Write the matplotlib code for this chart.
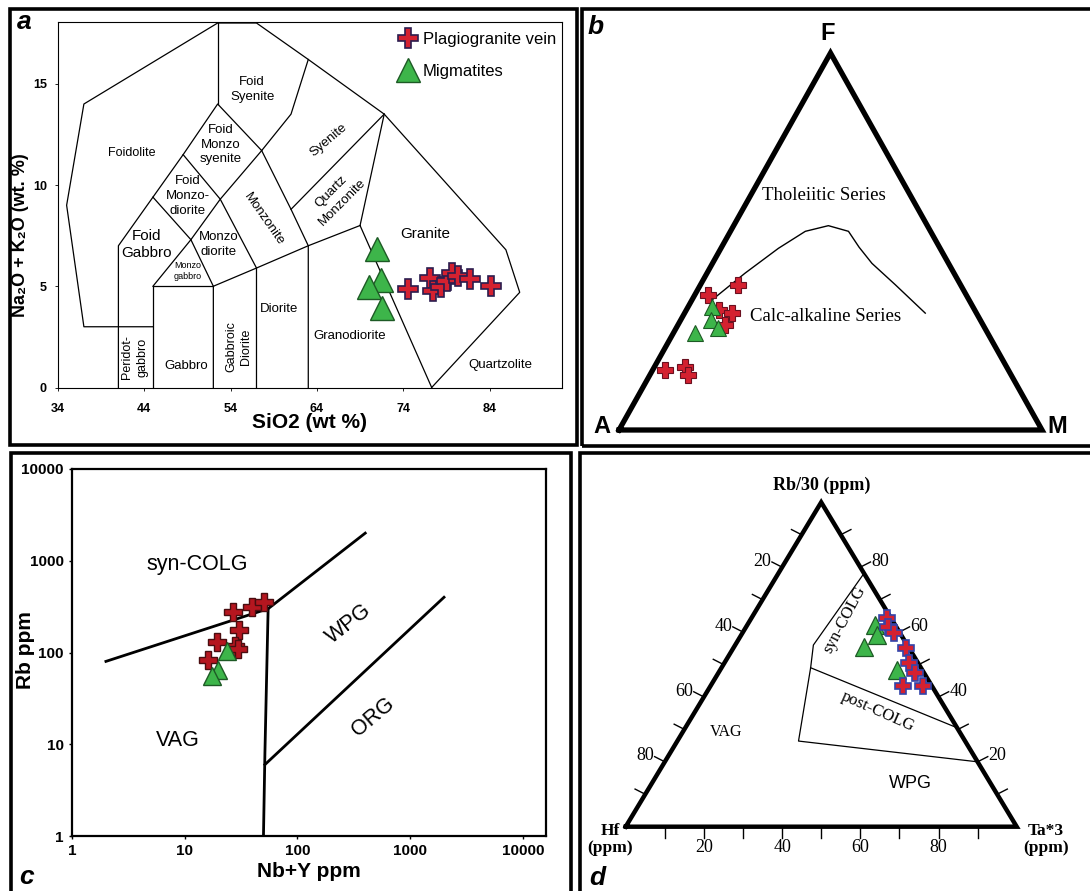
import numpy as np
import matplotlib.pyplot as plt
from matplotlib.patches import Rectangle

plt.rcParams['font.family'] = ['Liberation Sans', 'DejaVu Sans']
SERIF = ['Liberation Serif', 'DejaVu Serif']

# ---------------- data ----------------
# panel a: TAS (SiO2, Na2O+K2O)
a_plag_sio2 = [74.5, 77.1, 77.5, 78.4, 79.1, 79.7, 80.3, 81.7, 84.2]
a_plag_alk = [4.87, 5.41, 4.79, 4.97, 5.25, 5.63, 5.50, 5.36, 5.00]
a_mig_sio2 = [71.0, 71.4, 70.0, 71.6]
a_mig_alk = [6.85, 5.33, 4.97, 3.93]

tas_lines = [
    [(45, 3), (37, 3), (35, 9), (37, 14), (52.5, 18), (57, 18), (63, 16.2),
     (71.8, 13.5), (85.9, 6.8), (87.5, 4.7), (77.3, 0)],
    [(41, 0), (41, 7), (45, 9.4), (48.5, 11.5), (52.5, 14), (57.6, 11.7),
     (61, 13.5), (63, 16.2)],
    [(52.5, 14), (52.5, 18)],
    [(45, 0), (45, 5), (52, 5)],
    [(45, 5), (49.4, 7.3)],
    [(45, 9.4), (49.4, 7.3), (52, 5), (52, 0)],
    [(49.4, 7.3), (52.8, 9.3), (57.6, 11.7)],
    [(48.5, 11.5), (52.8, 9.3), (57, 5.9), (57, 0)],
    [(52, 5), (57, 5.9), (63, 7), (69, 8)],
    [(57.6, 11.7), (61, 8.8), (63, 7), (63, 0)],
    [(61, 8.8), (71.8, 13.5)],
    [(69, 8), (71.8, 13.5)],
    [(69, 8), (77.3, 0)],
]
tas_names = ["Foidolite", "Foid\nSyenite", "Foid\nMonzo\nsyenite", "Foid\nMonzo-\ndiorite",
             "Foid\nGabbro", "Monzo\ndiorite", "Monzo\ngabbro", "Monzonite", "Syenite",
             "Quartz\nMonzonite", "Granite", "Diorite", "Granodiorite", "Quartzolite",
             "Gabbro", "Peridot-\ngabbro", "Gabbroic\nDiorite"]
tas_name_x = [42.5, 56.5, 52.9, 49.0, 44.3, 52.6, 49.0, 57.8, 65.4, 66.3, 76.5, 59.6, 67.8, 85.3,
              48.9, 42.9, 54.9]
tas_name_y = [11.6, 14.7, 12.0, 9.45, 7.05, 7.05, 5.75, 8.3, 12.2, 9.4, 7.6, 3.9, 2.55, 1.1,
              1.05, 1.5, 2.0]
tas_name_rot = [0, 0, 0, 0, 0, 0, 0, -55, 40, 45, 0, 0, 0, 0, 0, 90, 90]
tas_name_size = [9, 9.5, 9.5, 9.5, 11, 9.5, 6.5, 9.5, 9.5, 9.5, 11, 9.5, 9.5, 9.5, 9.5, 9, 9]

# panel b: AFM (A, F, M %)
b_plag_A = [81.2, 76.0, 76.5, 61.1, 52.7, 60.4, 57.8, 61.0]
b_plag_F = [15.9, 16.8, 14.6, 35.8, 38.5, 31.9, 31.0, 27.9]
b_plag_M = [2.9, 7.2, 8.9, 3.1, 8.8, 7.7, 11.2, 11.1]
b_mig_A = [69.3, 61.7, 63.6, 63.0]
b_mig_F = [25.7, 32.7, 29.2, 27.0]
b_mig_M = [5.0, 5.6, 7.2, 10.0]
b_curve_F = [34.1, 41.6, 48.2, 52.7, 54.2, 52.7, 48.5, 44.2, 38.5, 31.0]
b_curve_M = [4.5, 9.0, 13.6, 17.7, 22.4, 27.9, 32.5, 37.7, 46.1, 56.9]

# panel c: Rb vs Nb+Y
c_plag_nby = [26.8, 39.5, 50.2, 30.1, 19.4, 28.1, 30.0, 16.0]
c_plag_rb = [274, 316, 352, 176, 129, 119, 110, 82]
c_mig_nby = [23.7, 19.7, 17.5]
c_mig_rb = [105, 63.7, 56]
c_lines = [
    [(2, 80), (55, 300), (400, 2000)],
    [(55, 300), (51.5, 8), (50, 1)],
    [(51.5, 6), (2000, 400)],
]

# panel d: Rb/30 - Hf - Ta*3 (%)
d_plag_rb = [64.2, 61.7, 59.6, 55.0, 50.4, 47.3, 43.5, 43.5]
d_plag_ta = [34.7, 36.3, 38.7, 44.1, 47.3, 50.3, 49.2, 54.4]
d_mig_rb = [62.2, 59.1, 55.5, 48.3]
d_mig_ta = [32.7, 34.8, 33.2, 45.3]
d_lines = [  # (Rb, Ta)
    [(78.1, 21.9), (56.0, 20.0), (49.0, 22.8), (26.4, 31.0), (20.0, 80.0)],
    [(49.0, 22.8), (30.5, 69.5)],
]
d_tick_values = [10, 20, 30, 40, 50, 60, 70, 80, 90]
d_tick_labels = [20, 40, 60, 80]

# ---------------- styles ----------------
RED = '#d42130'
GREEN = '#3db54a'
plag_a = dict(marker='P', ls='none', mfc=RED, mec='#2b1d4f', mew=1.2)
mig_a = dict(marker='^', ls='none', mfc=GREEN, mec='#1d5a25', mew=1.0)

W, H = 1090, 891
fig = plt.figure(figsize=(W / 100, H / 100), dpi=100)


def box(x0, y0, x1, y1):
    return [x0 / W, 1 - y1 / H, (x1 - x0) / W, (y1 - y0) / H]


# panel frames
for x0, y0, x1, y1 in [(9.5, 8.5, 577, 444.5), (582, 8.5, 1100, 446),
                       (10.5, 453, 570.5, 905), (579.5, 453, 1100, 905)]:
    fig.add_artist(Rectangle((x0 / W, 1 - y1 / H), (x1 - x0) / W, (y1 - y0) / H,
                             transform=fig.transFigure, fill=False, lw=2.6,
                             ec='black', zorder=10))

# ---------------- panel a ----------------
axa = fig.add_axes(box(58, 22, 562, 387.5))
for line in tas_lines:
    xs, ys = zip(*line)
    axa.plot(xs, ys, color='black', lw=0.9)
for name, x, y, r, s in zip(tas_names, tas_name_x, tas_name_y, tas_name_rot, tas_name_size):
    axa.text(x, y, name, rotation=r, fontsize=s, ha='center', va='center',
             linespacing=1.3, rotation_mode='anchor')
axa.plot(a_plag_sio2, a_plag_alk, ms=15, label='Plagiogranite vein', **plag_a)
axa.plot(a_mig_sio2, a_mig_alk, ms=17, label='Migmatites', **mig_a)
axa.set_xlim(34, 92.4)
axa.set_ylim(0, 18.05)
axa.set_xticks([34, 44, 54, 64, 74, 84])
axa.set_yticks([0, 5, 10, 15])
axa.tick_params(length=2, width=0.6, labelsize=9, pad=9)
axa.tick_params(axis='y', pad=6)
for t in axa.get_xticklabels() + axa.get_yticklabels():
    t.set_fontweight('bold')
for sp in axa.spines.values():
    sp.set_linewidth(0.8)
axa.set_xlabel('SiO2 (wt %)', fontsize=15, fontweight='bold', va='center')
axa.xaxis.set_label_coords(0.5, -0.097)
axa.set_ylabel('Na\u2082O + K\u2082O (wt. %)', fontsize=13, fontweight='bold', va='center')
axa.yaxis.set_label_coords(-0.074, 0.417)
axa.legend(loc='upper left', bbox_to_anchor=(0.655, 1.0), frameon=False, fontsize=12,
           handlelength=1.2, handletextpad=0.3, labelspacing=1.0, borderaxespad=0.2)
fig.text(24 / W, 1 - 22 / H, 'a', fontsize=19, fontweight='bold', style='italic',
         ha='center', va='center')

# ---------------- panel b ----------------
axb = fig.add_axes(box(619, 53, 1042, 430))
axb.set_xlim(0, 1)
axb.set_ylim(0, 1)
axb.axis('off')


def afm(F, M):
    F = np.asarray(F) / 100
    M = np.asarray(M) / 100
    return M + F / 2, F


axb.plot([0, 1, 0.5, 0], [0, 0, 1, 0], color='black', lw=3.8, solid_joinstyle='miter',
         clip_on=False)
cx, cy = afm(b_curve_F, b_curve_M)
axb.plot(cx, cy, color='black', lw=1.0)
px, py = afm(b_plag_F, b_plag_M)
axb.plot(px, py, ms=12, marker='P', ls='none', mfc=RED, mec='#6a1020', mew=0.8)
mx, my = afm(b_mig_F, b_mig_M)
axb.plot(mx, my, ms=12, marker='^', ls='none', mfc=GREEN, mec='#1d5a25', mew=0.8)
axb.text(0.494, 1.053, 'F', fontsize=17, fontweight='bold', ha='center', va='center')
axb.text(-0.04, 0.008, 'A', fontsize=17, fontweight='bold', ha='center', va='center')
axb.text(1.037, 0.008, 'M', fontsize=17, fontweight='bold', ha='center', va='center')
axb.text(0.485, 0.623, 'Tholeiitic Series', family=SERIF, fontsize=13.5, ha='center', va='center')
axb.text(0.489, 0.302, 'Calc-alkaline Series', family=SERIF, fontsize=13.5, ha='center',
         va='center')
fig.text(596 / W, 1 - 27 / H, 'b', fontsize=19, fontweight='bold', style='italic',
         ha='center', va='center')

# ---------------- panel c ----------------
axc = fig.add_axes(box(72, 469, 546, 836))
axc.set_xscale('log')
axc.set_yscale('log')
for line in c_lines:
    xs, ys = zip(*line)
    axc.plot(xs, ys, color='black', lw=2.0)
axc.plot(c_plag_nby, c_plag_rb, ms=13, marker='P', ls='none', mfc='#b5161f', mec='#4a0d10',
         mew=1.0)
axc.plot(c_mig_nby, c_mig_rb, ms=13, marker='^', ls='none', mfc=GREEN, mec='#1d5a25', mew=1.0)
axc.set_xlim(1, 10 ** 4.206)
axc.set_ylim(1, 10000)
ticks = [1, 10, 100, 1000, 10000]
axc.set_xticks(ticks, [str(t) for t in ticks])
axc.set_yticks(ticks, [str(t) for t in ticks])
axc.minorticks_off()
axc.tick_params(length=2, width=1, labelsize=11, pad=4)
for t in axc.get_xticklabels() + axc.get_yticklabels():
    t.set_fontweight('bold')
for sp in axc.spines.values():
    sp.set_linewidth(1.6)
axc.text(12.9, 905, 'syn-COLG', fontsize=15.5, ha='center', va='center')
axc.text(8.7, 11, 'VAG', fontsize=15.5, ha='center', va='center')
axc.text(285, 205, 'WPG', fontsize=15.5, rotation=38, ha='center', va='center')
axc.text(475, 19.8, 'ORG', fontsize=15.5, rotation=40, ha='center', va='center')
axc.set_xlabel('Nb+Y ppm', fontsize=15, fontweight='bold', va='center')
axc.xaxis.set_label_coords(0.5, -0.098)
axc.set_ylabel('Rb ppm', fontsize=15, fontweight='bold', va='center')
axc.yaxis.set_label_coords(-0.099, 0.507)
fig.text(27 / W, 1 - 877 / H, 'c', fontsize=19, fontweight='bold', style='italic',
         ha='center', va='center')

# ---------------- panel d ----------------
axd = fig.add_axes(box(625.7, 502.3, 1016.7, 826.7))
axd.set_xlim(0, 1)
axd.set_ylim(0, 1)
axd.axis('off')


def tern(rb, ta):
    rb = np.asarray(rb) / 100
    ta = np.asarray(ta) / 100
    return ta + rb / 2, rb


axd.plot([0, 1, 0.5, 0], [0, 0, 1, 0], color='black', lw=3.2, solid_joinstyle='miter',
         clip_on=False)
for line in d_lines:
    rb, ta = zip(*line)
    lx, ly = tern(rb, ta)
    axd.plot(lx, ly, color='black', lw=0.9)

# tick marks on the three edges
for v in d_tick_values:
    f = v / 100
    axd.plot([f, f], [0, -0.035], color='black', lw=1.0, clip_on=False)
    lx, ly = 0.5 * (1 - f), 1 - f
    axd.plot([lx, lx - 0.026], [ly, ly + 0.016], color='black', lw=1.0, clip_on=False)
    rx, ry = 1 - 0.5 * f, f
    axd.plot([rx, rx + 0.026], [ry, ry + 0.016], color='black', lw=1.0, clip_on=False)
for v in d_tick_labels:
    f = v / 100
    axd.text(f, -0.065, str(v), family=SERIF, fontsize=13, ha='center', va='center')
    axd.text(0.5 * (1 - f) - 0.028, 1 - f + 0.018, str(v), family=SERIF, fontsize=13,
             ha='right', va='center')
    axd.text(1 - 0.5 * f + 0.028, f + 0.018, str(v), family=SERIF, fontsize=13, ha='left',
             va='center')

mx, my = tern(d_mig_rb, d_mig_ta)
axd.plot(mx, my, ms=13, marker='^', ls='none', mfc=GREEN, mec='#1d5a25', mew=0.9)
px, py = tern(d_plag_rb, d_plag_ta)
axd.plot(px, py, ms=12, marker='P', ls='none', mfc=RED, mec='#3344aa', mew=1.2)

axd.text(0.501, 1.053, 'Rb/30 (ppm)', family=SERIF, fontsize=13, fontweight='bold',
         ha='center', va='center')
axd.text(-0.04, -0.04, 'Hf\n(ppm)', family=SERIF, fontsize=12.5, fontweight='bold',
         ha='center', va='center', linespacing=1.1)
axd.text(1.075, -0.04, 'Ta*3\n(ppm)', family=SERIF, fontsize=12.5, fontweight='bold',
         ha='center', va='center', linespacing=1.1)
axd.text(0.256, 0.293, 'VAG', family=SERIF, fontsize=11.5, ha='center', va='center')
axd.text(0.727, 0.132, 'WPG', fontsize=13, ha='center', va='center')
axd.text(0.56, 0.637, 'syn-COLG', family=SERIF, fontsize=12, rotation=62, ha='center',
         va='center')
axd.text(0.645, 0.354, 'post-COLG', family=SERIF, fontsize=12, rotation=-24, ha='center',
         va='center')
fig.text(597 / W, 1 - 878 / H, 'd', fontsize=19, fontweight='bold', style='italic',
         ha='center', va='center')

fig.savefig('out.png', dpi=100)
